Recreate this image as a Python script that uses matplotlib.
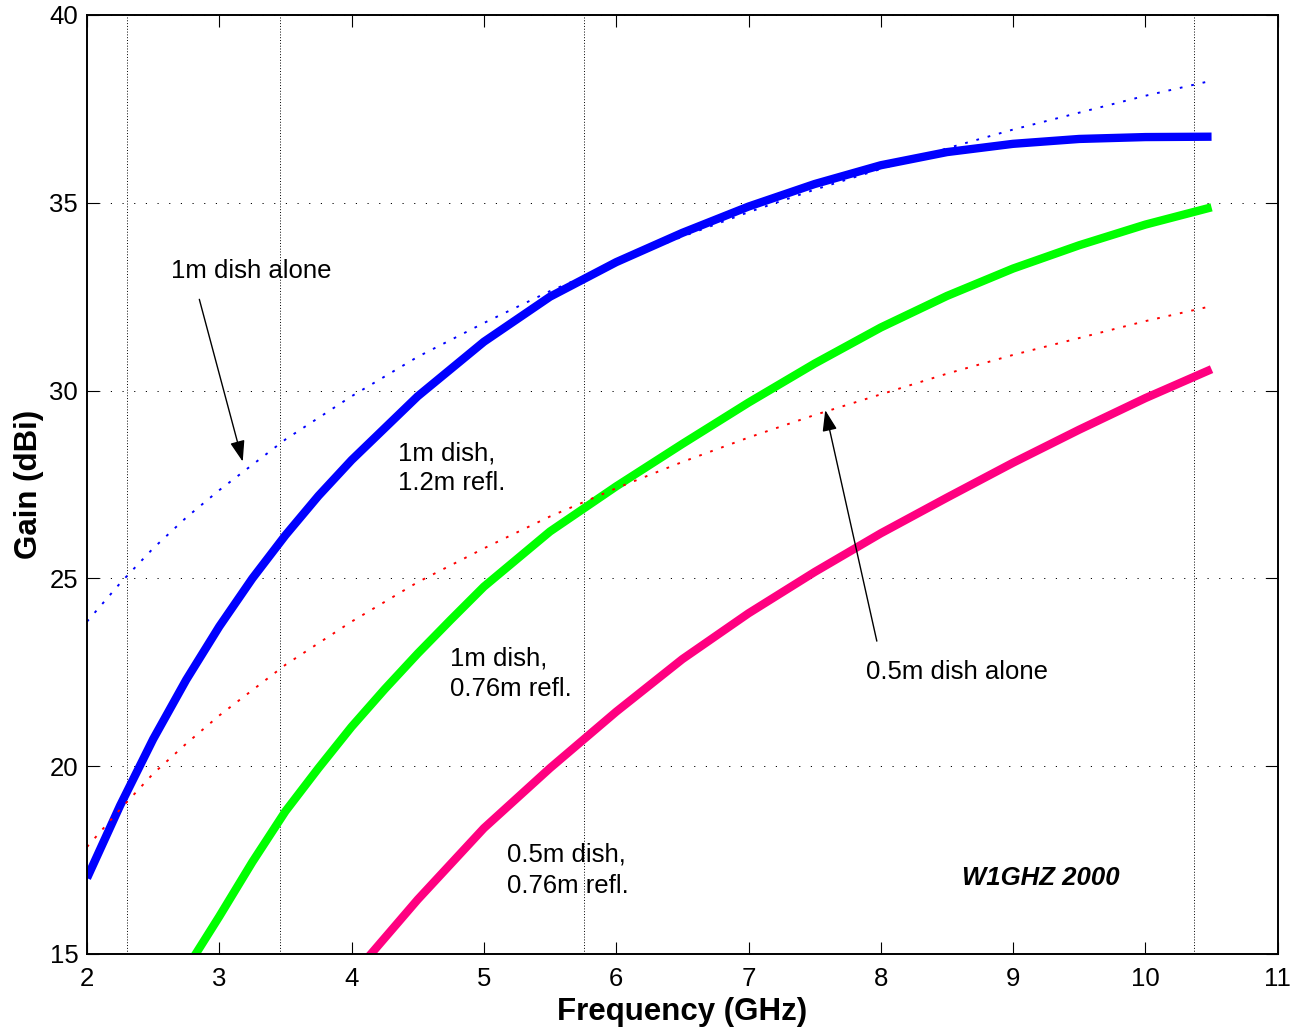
import matplotlib
matplotlib.use("Agg")
import matplotlib.pyplot as plt

plt.rcParams['font.family'] = ['Liberation Sans', 'DejaVu Sans']

# ---------------- data ----------------
freq_alone = [2.0, 2.25, 2.5, 2.75, 3.0, 3.5, 4.0, 4.5, 5.0, 5.5, 6.0, 6.5, 7.0,
              7.5, 8.0, 8.5, 9.0, 9.5, 10.0, 10.5]
gain_1m_alone = [23.85, 24.87, 25.8, 26.62, 27.35, 28.7, 29.85, 30.9, 31.8, 32.65,
                 33.4, 34.1, 34.75, 35.35, 35.9, 36.45, 36.95, 37.4, 37.85, 38.25]
gain_05m_alone = [17.85, 18.85, 19.8, 20.6, 21.35, 22.7, 23.85, 24.9, 25.8, 26.65,
                  27.4, 28.1, 28.75, 29.35, 29.9, 30.45, 30.95, 31.4, 31.85, 32.25]

freq_1m_12 = [2.0, 2.25, 2.5, 2.75, 3.0, 3.25, 3.5, 3.75, 4.0, 4.5, 5.0, 5.5, 6.0,
              6.5, 7.0, 7.5, 8.0, 8.5, 9.0, 9.5, 10.0, 10.5]
gain_1m_12 = [17.02, 18.95, 20.72, 22.3, 23.72, 25.0, 26.15, 27.2, 28.15, 29.85,
              31.3, 32.5, 33.42, 34.2, 34.9, 35.5, 36.0, 36.35, 36.57, 36.7, 36.75, 36.76]

freq_1m_076 = [2.75, 3.0, 3.25, 3.5, 3.75, 4.0, 4.25, 4.5, 4.75, 5.0, 5.5, 6.0, 6.5,
               7.0, 7.5, 8.0, 8.5, 9.0, 9.5, 10.0, 10.5]
gain_1m_076 = [14.6, 16.0, 17.45, 18.8, 19.95, 21.05, 22.05, 23.0, 23.9, 24.78, 26.25,
               27.45, 28.58, 29.68, 30.72, 31.68, 32.52, 33.25, 33.87, 34.42, 34.88]

freq_05m_076 = [4.0, 4.5, 5.0, 5.5, 6.0, 6.5, 7.0, 7.5, 8.0, 8.5, 9.0, 9.5, 10.0, 10.5]
gain_05m_076 = [14.4, 16.45, 18.35, 19.95, 21.45, 22.85, 24.07, 25.17, 26.2, 27.15,
                28.08, 28.96, 29.8, 30.57]

band_freqs = [2.304, 3.456, 5.76, 10.368]
x_ticks = [2, 3, 4, 5, 6, 7, 8, 9, 10, 11]
y_ticks = [15, 20, 25, 30, 35, 40]

# ---------------- figure ----------------
W, H = 1294, 1030
fig = plt.figure(figsize=(W / 100, H / 100), dpi=100)
L, R, T, B = 87, 1277.7, 15, 954
ax = fig.add_axes([L / W, 1 - B / H, (R - L) / W, (B - T) / H])
ax.set_xlim(2, 11)
ax.set_ylim(15, 40)
ax.set_xticks(x_ticks)
ax.set_yticks(y_ticks)

ax.grid(axis='y', color='k', lw=0.7, ls=(0, (1.2, 10.8)), zorder=1)
for f in band_freqs:
    ax.axvline(f, color='k', lw=0.7, ls=(0, (1.0, 1.9)), zorder=1)

solid = dict(lw=6, solid_capstyle='butt', solid_joinstyle='round', zorder=3)
ax.plot(freq_1m_12, gain_1m_12, color='#0000ff', **solid)
ax.plot(freq_1m_076, gain_1m_076, color='#00ff00', **solid)
ax.plot(freq_05m_076, gain_05m_076, color='#ff0080', **solid)
ax.plot(freq_alone, gain_1m_alone, color='#0000ff', lw=1.4, ls=(0, (1.4, 4.6)), zorder=4)
ax.plot(freq_alone, gain_05m_alone, color='#ff0000', lw=1.4, ls=(0, (1.4, 4.6)), zorder=4)

fs = 18.5
ax.text(2.633, 32.99, '1m dish alone', fontsize=fs, ha='left', va='baseline')
ax.text(4.353, 28.13, '1m dish,', fontsize=fs, ha='left', va='baseline')
ax.text(4.353, 27.35, '1.2m refl.', fontsize=fs, ha='left', va='baseline')
ax.text(4.744, 22.68, '1m dish,', fontsize=fs, ha='left', va='baseline')
ax.text(4.744, 21.87, '0.76m refl.', fontsize=fs, ha='left', va='baseline')
ax.text(5.172, 17.46, '0.5m dish,', fontsize=fs, ha='left', va='baseline')
ax.text(5.172, 16.63, '0.76m refl.', fontsize=fs, ha='left', va='baseline')
ax.text(7.89, 22.33, '0.5m dish alone', fontsize=fs, ha='left', va='baseline')
ax.text(8.615, 16.84, 'W1GHZ 2000', fontsize=fs, ha='left', va='baseline',
        fontweight='bold', style='italic')

arrow = dict(arrowstyle='-|>,head_length=0.4,head_width=0.14', mutation_scale=32,
             lw=1, color='k', shrinkA=0, shrinkB=0)
ax.annotate('', xy=(3.177, 28.11), xytext=(2.849, 32.43), arrowprops=arrow, zorder=5)
ax.annotate('', xy=(7.58, 29.48), xytext=(7.97, 23.33), arrowprops=arrow, zorder=5)

ax.tick_params(direction='in', length=8.6, width=0.8, top=True, right=True,
               labelsize=18.5, colors='k')
ax.tick_params(axis='x', pad=9.5)
ax.tick_params(axis='y', pad=6.3)
for s in ax.spines.values():
    s.set_linewidth(1.4)
    s.set_zorder(6)

ax.set_xlabel('Frequency (GHz)', fontsize=22.5, fontweight='bold', va='center')
ax.xaxis.set_label_coords(0.5, (B - 1012) / (B - T))
ax.set_ylabel('Gain (dBi)', fontsize=22.5, fontweight='bold', va='center')
ax.yaxis.set_label_coords((29 - L) / (R - L), 0.5)

fig.savefig('out.png', dpi=100)
